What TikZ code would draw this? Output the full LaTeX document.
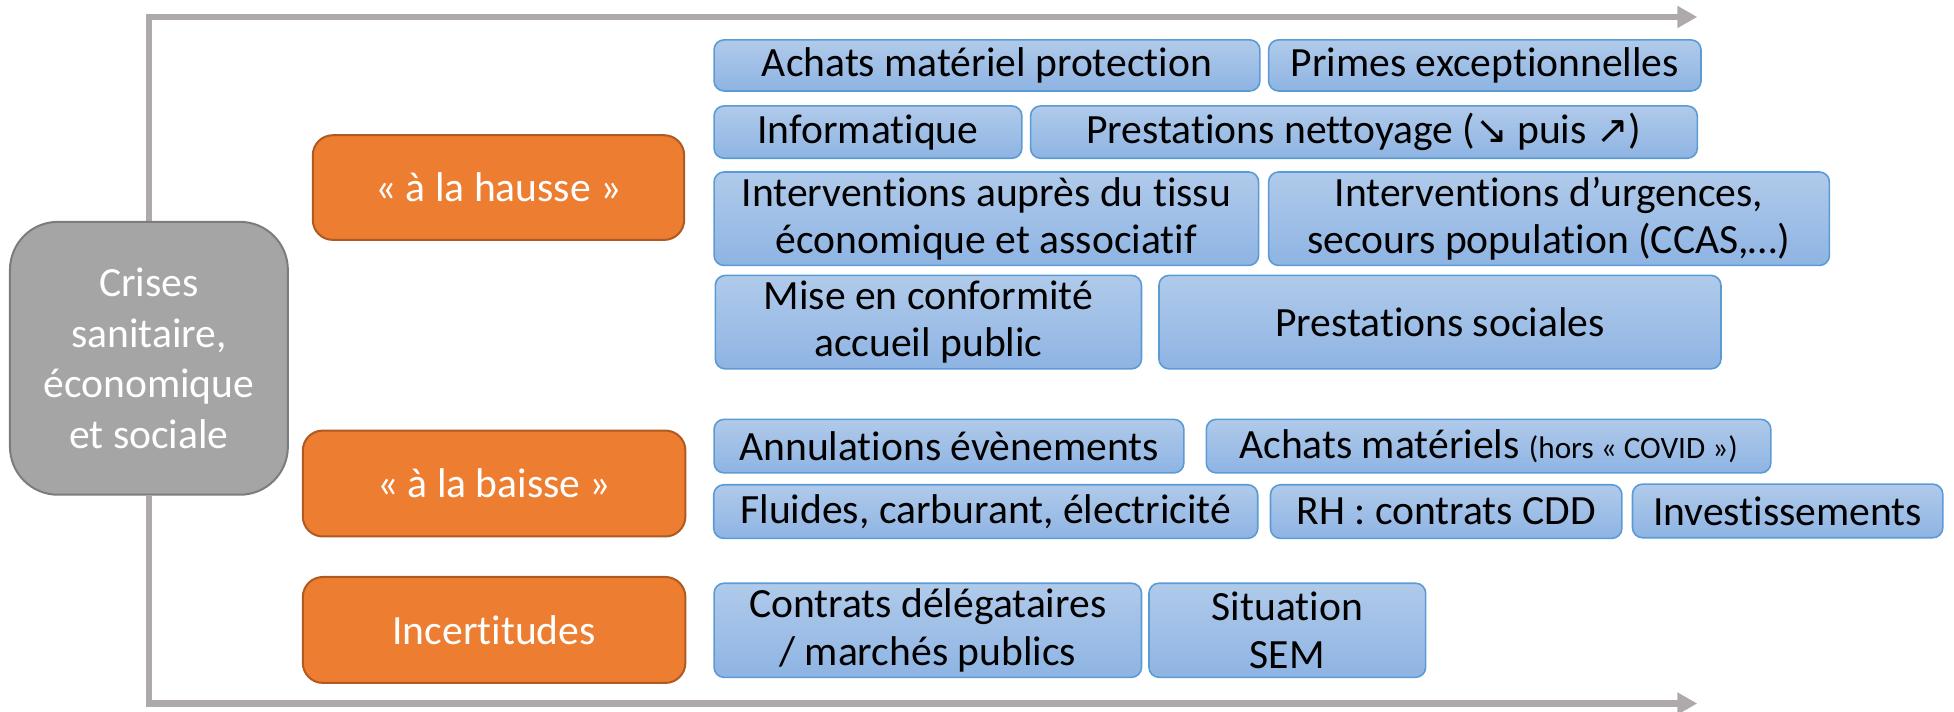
\documentclass[tikz,border=0pt]{standalone}
\usepackage{fontspec}
\setmainfont{Carlito}[Ligatures=NoCommon]
\newfontfamily\symfont{DejaVu Sans}
\usetikzlibrary{arrows.meta,backgrounds}
\newcommand\pxu{0.6231pt}
\definecolor{connc}{HTML}{AEAAAA}
\definecolor{grayfill}{HTML}{A5A5A5}
\definecolor{grayline}{HTML}{7C7C7C}
\definecolor{orfill}{HTML}{ED7D31}
\definecolor{orline}{HTML}{AE5A21}
\definecolor{bltop}{HTML}{B0CAEA}
\definecolor{blbot}{HTML}{8EB4E3}
\definecolor{blline}{HTML}{5B9BD5}
\tikzset{
  bluebox/.style={draw=blline, line width=0.8pt, top color=bltop, bottom color=blbot,
    rounded corners=5pt, inner sep=0pt, align=center, text=black},
  orbox/.style={draw=orline, line width=1pt, fill=orfill, rounded corners=10pt,
    inner sep=0pt, align=center, text=white},
  graybox/.style={draw=grayline, line width=1pt, fill=grayfill, rounded corners=24pt,
    inner sep=0pt, align=center, text=white, font=\fontsize{20.8}{25.4}\selectfont},
  conn/.style={draw=connc, line width=3.2pt, -{Triangle[length=10pt,width=10.5pt]}},
  arrowglyph/.style={}
}
\newcommand\diagarrow[1]{{\symfont\fontsize{19.5}{20}\selectfont #1}}
\begin{document}
\begin{tikzpicture}[x=0.6231pt, y={(0pt,-0.6231pt)}, font=\fontsize{20.8}{23.7}\selectfont]
\useasboundingbox (0,0) rectangle (1568,571);
\coordinate (topend) at (1362,13.6);
\coordinate (botend) at (1362,564.5);
\node[graybox, minimum width=223*\pxu, minimum height=219*\pxu] (crise) at (119.5,287.5)
  {Crises\\sanitaire,\\économique\\et sociale};
\begin{scope}[on background layer]
\draw[conn] (crise.north) |- (topend);
\draw[conn] (crise.south) |- (botend);
\end{scope}
% orange
\node[orbox, minimum width=298*\pxu, minimum height=84*\pxu] (hausse) at (400,150.5) {« à la hausse »};
\node[orbox, minimum width=307*\pxu, minimum height=85*\pxu] (baisse) at (396.5,388) {« à la baisse »};
\node[orbox, minimum width=307*\pxu, minimum height=85*\pxu] (incert) at (396.5,505.5) {Incertitudes};
% blue row 1
\node[bluebox, minimum width=438*\pxu, minimum height=41*\pxu] (b1) at (792,52.5) {Achats matériel protection};
\node[bluebox, minimum width=347*\pxu, minimum height=41*\pxu] (b2) at (1191.5,52.5) {Primes exceptionnelles};
% row 2
\node[bluebox, minimum width=247*\pxu, minimum height=42*\pxu] (b3) at (696.5,106) {Informatique};
\node[bluebox, minimum width=535*\pxu, minimum height=42*\pxu] (b4) at (1094.5,106)
  {Prestations nettoyage (\diagarrow{↘} puis \diagarrow{↗})};
% row 3
\node[bluebox, minimum width=437*\pxu, minimum height=75*\pxu] (b5) at (791.5,175.5)
  {Interventions auprès du tissu\\économique et associatif};
\node[bluebox, minimum width=450*\pxu, minimum height=75*\pxu] (b6) at (1243,175.5)
  {Interventions d’urgences,\\secours population (CCAS,…)};
% row 4
\node[bluebox, minimum width=342*\pxu, minimum height=75*\pxu] (b7) at (745,258.5)
  {Mise en conformité\\accueil public};
\node[bluebox, minimum width=451*\pxu, minimum height=75*\pxu] (b8) at (1155.5,258.5)
  {Prestations sociales};
% row 5
\node[bluebox, minimum width=377*\pxu, minimum height=43*\pxu] (b9) at (761.5,358) {Annulations évènements};
\node[bluebox, minimum width=453*\pxu, minimum height=43*\pxu] (b10) at (1194.5,358)
  {Achats matériels {\fontsize{15.6}{18}\selectfont (hors « COVID »)}};
% row 6
\node[bluebox, minimum width=436.5*\pxu, minimum height=43*\pxu] (b11) at (791,410.5) {Fluides, carburant, électricité};
\node[bluebox, minimum width=282*\pxu, minimum height=43*\pxu] (b12) at (1160.5,410.5) {RH : contrats CDD};
\node[bluebox, minimum width=249*\pxu, minimum height=43*\pxu] (b13) at (1434.5,410) {Investissements};
% row 7
\node[bluebox, minimum width=343*\pxu, minimum height=75.5*\pxu] (b14) at (744.5,505.75)
  {Contrats délégataires\\/ marchés publics};
\node[bluebox, minimum width=222*\pxu, minimum height=75.5*\pxu] (b15) at (1033,505.75)
  {Situation\\SEM};
\end{tikzpicture}
\end{document}
